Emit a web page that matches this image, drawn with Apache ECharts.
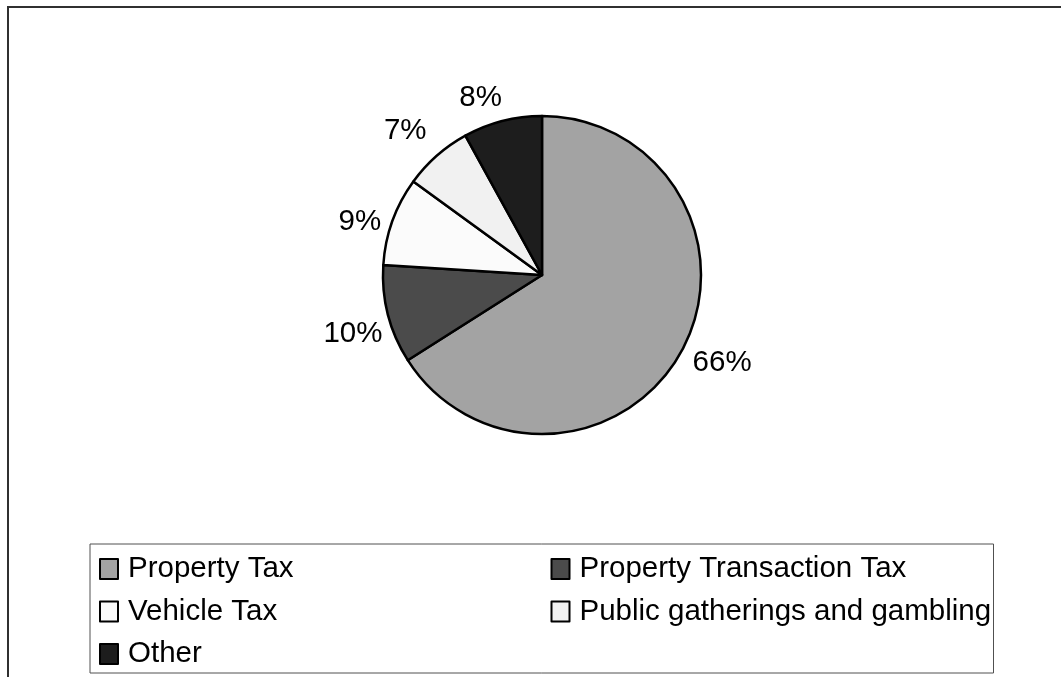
<!DOCTYPE html>
<html>
<head>
<meta charset="utf-8">
<title>Tax revenue shares</title>
<script src="https://cdn.jsdelivr.net/npm/echarts@6/dist/echarts.min.js"></script>
<style>
  html, body { margin: 0; padding: 0; background: #ffffff; }
  #frame {
    position: absolute; left: 7px; top: 6px; right: -10px; bottom: -10px;
    border-left: 2px solid #303030; border-top: 2px solid #303030;
  }
  #chart { position: absolute; left: 0; top: 0; width: 1061px; height: 677px; }
</style>
</head>
<body>
<div id="frame"></div>
<div id="chart"></div>
<script>
// Revenue categories and their shares (percent)
const categories = [
  'Property Tax',
  'Property Transaction Tax',
  'Vehicle Tax',
  'Public gatherings and gambling',
  'Other'
];
const shares = [66, 10, 9, 7, 8];
const sliceColors = ['#a3a3a3', '#4b4b4b', '#fbfbfb', '#f1f1f1', '#1d1d1d'];

// Small per-slice nudges for the percentage labels
const labelNudge = [[-6, 5], [13, 16], [7, 5], [4, -14], [8, -10]];

const font = '"Liberation Sans", Arial, Helvetica, sans-serif';

const chart = echarts.init(document.getElementById('chart'), null, { renderer: 'canvas' });

chart.setOption({
  animation: false,
  backgroundColor: 'transparent',
  legend: {
    orient: 'horizontal',
    left: 90,
    top: 544,
    width: 915,
    padding: [8, 0, 2, 9],
    itemGap: 8.5,
    itemWidth: 18,
    itemHeight: 20,
    icon: 'rect',
    borderColor: '#505050',
    borderWidth: 1,
    backgroundColor: '#ffffff',
    textStyle: {
      fontFamily: font,
      fontSize: 29.5,
      color: '#000000',
      width: 414,
      lineHeight: 34,
      padding: [0, 0, 0, 5]
    },
    data: categories
  },
  series: [{
    type: 'pie',
    center: [542, 275],
    radius: 159,
    startAngle: 90,
    clockwise: true,
    avoidLabelOverlap: false,
    itemStyle: { borderColor: '#000000', borderWidth: 2.5 },
    label: {
      show: true,
      position: 'outside',
      formatter: '{c}%',
      fontFamily: font,
      fontSize: 29.5,
      color: '#000000',
      alignTo: 'none'
    },
    labelLine: { show: false, length: 14, length2: 0 },
    labelLayout: function (params) {
      const n = labelNudge[params.dataIndex] || [0, 0];
      return { dx: n[0], dy: n[1] };
    },
    emphasis: { disabled: true },
    data: categories.map((name, i) => ({
      name: name,
      value: shares[i],
      itemStyle: { color: sliceColors[i] }
    }))
  }]
});
</script>
</body>
</html>
